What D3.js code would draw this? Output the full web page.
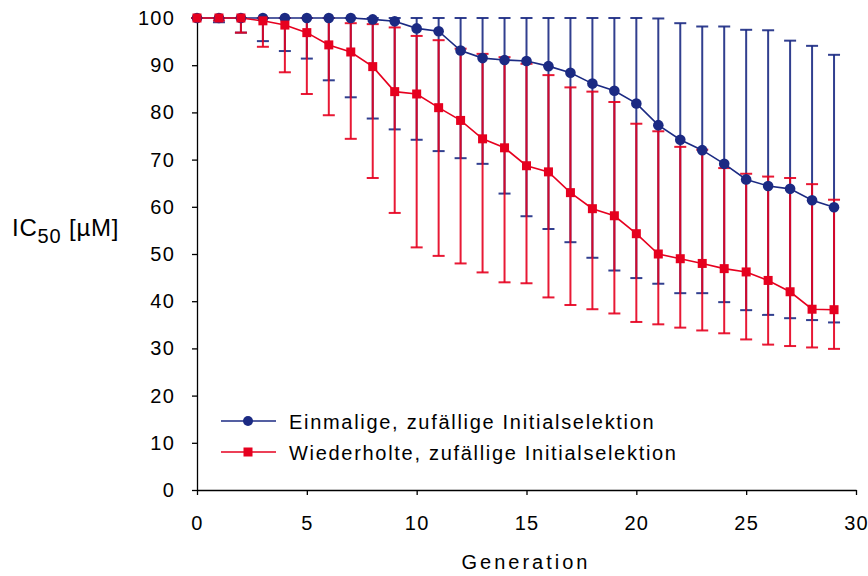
<!DOCTYPE html>
<html>
<head>
<meta charset="utf-8">
<script src="https://cdn.jsdelivr.net/npm/d3@7"></script>
<style>
  html, body { margin: 0; padding: 0; background: #fff; }
  svg { display: block; font-family: Arial, "Liberation Sans", sans-serif; }
</style>
</head>
<body>
<svg id="chart" width="868" height="576"></svg>
<script>
// Generation numbers
const generations = d3.range(0, 30);

// Series 1: single random initial selection (mean, upper and lower error limits)
const einmaligMean = [100, 100, 100, 100, 100, 100, 100, 100, 99.7, 99.3,
  97.8, 97.2, 93.1, 91.5, 91.1, 90.9, 89.8, 88.4, 86.1, 84.6,
  81.9, 77.3, 74.2, 72.0, 69.1, 65.8, 64.4, 63.8, 61.4, 59.9];
const einmaligUpper = [100, 100, 100, 100, 100, 100, 100, 100, 100, 100,
  100, 100, 100, 100, 100, 100, 100, 100, 100, 100,
  100, 99.9, 98.9, 98.2, 98.2, 97.5, 97.4, 95.2, 94.1, 92.2];
const einmaligLower = [100, 99.1, 96.9, 95.1, 93.0, 91.4, 86.8, 83.2, 78.7, 76.4,
  74.2, 71.8, 70.3, 69.1, 62.8, 58.0, 55.3, 52.5, 49.2, 46.5,
  44.9, 43.7, 41.7, 41.7, 39.8, 38.1, 37.1, 36.4, 36.0, 35.5];

// Series 2: repeated random initial selection
const wiederholtMean = [100, 100, 100, 99.4, 98.5, 96.9, 94.3, 92.8, 89.7, 84.4,
  83.9, 81.0, 78.3, 74.4, 72.5, 68.7, 67.4, 63.0, 59.6, 58.1,
  54.3, 50.0, 49.0, 48.0, 46.9, 46.2, 44.4, 42.0, 38.3, 38.2];
const wiederholtUpper = [100, 100, 100, 100, 100, 100, 100, 98.9, 98.7, 98.0,
  96.2, 95.3, 93.5, 92.4, 91.7, 90.3, 87.9, 85.3, 84.4, 82.2,
  77.6, 76.0, 72.7, 72.1, 68.2, 67.0, 66.4, 66.1, 64.8, 61.5];
const wiederholtLower = [100, 99.5, 96.9, 93.9, 88.5, 83.9, 79.4, 74.4, 66.1, 58.7,
  51.4, 49.6, 48.0, 46.1, 44.0, 43.8, 40.8, 39.2, 38.3, 37.4,
  35.6, 35.1, 34.4, 33.8, 33.2, 31.9, 30.8, 30.5, 30.2, 29.9];

// Axis ticks and labels
const xTicks = [0, 5, 10, 15, 20, 25, 30];
const yTicks = [0, 10, 20, 30, 40, 50, 60, 70, 80, 90, 100];
const xTitle = "Generation";
const legendLabels = ["Einmalige, zufällige Initialselektion", "Wiederholte, zufällige Initialselektion"];

const BLUE = "#1b2a83";
const RED = "#e6001f";

const svg = d3.select("#chart");
const x = d3.scaleLinear().domain([0, 30]).range([197, 856]);
const y = d3.scaleLinear().domain([0, 100]).range([490, 18]);

// Axes
const xAxis = svg.append("g")
  .attr("transform", `translate(0,${y(0)})`)
  .call(d3.axisBottom(x).tickValues(xTicks).tickSize(5).tickSizeOuter(0).tickPadding(21));
const yAxis = svg.append("g")
  .attr("transform", `translate(${x(0)},0)`)
  .call(d3.axisLeft(y).tickValues(yTicks).tickSize(5).tickSizeOuter(0).tickPadding(17));

[xAxis, yAxis].forEach(g => {
  g.select(".domain").attr("stroke", "#000").attr("stroke-width", 1.3);
  g.selectAll(".tick line").attr("stroke", "#000").attr("stroke-width", 1.3);
  g.selectAll(".tick text")
    .attr("fill", "#000")
    .style("font-size", "20px")
    .style("font-family", "Arial, 'Liberation Sans', sans-serif")
    .style("letter-spacing", "1.2px");
});

// Axis titles
svg.append("text")
  .attr("x", 526).attr("y", 569)
  .attr("text-anchor", "middle")
  .style("font-size", "20px")
  .style("letter-spacing", "3px")
  .text(xTitle);

const yTitle = svg.append("text")
  .attr("x", 12).attr("y", 236)
  .style("font-size", "24px")
  .style("letter-spacing", "0.8px");
yTitle.append("tspan").text("IC");
yTitle.append("tspan").attr("dy", 7).style("font-size", "20px").text("50");
yTitle.append("tspan").attr("dy", -7).text(" [µM]");

// Error bars
function errorBars(upper, lower, color) {
  const g = svg.append("g").attr("stroke", color).attr("stroke-width", 2).attr("stroke-opacity", 0.9);
  generations.forEach((gen, i) => {
    const cx = x(gen);
    g.append("line").attr("x1", cx).attr("x2", cx).attr("y1", y(upper[i])).attr("y2", y(lower[i]));
    g.append("line").attr("x1", cx - 6).attr("x2", cx + 6).attr("y1", y(upper[i])).attr("y2", y(upper[i]));
    g.append("line").attr("x1", cx - 6).attr("x2", cx + 6).attr("y1", y(lower[i])).attr("y2", y(lower[i]));
  });
}
errorBars(einmaligUpper, einmaligLower, BLUE);
errorBars(wiederholtUpper, wiederholtLower, RED);

// Lines
const line = d3.line().x((d, i) => x(generations[i])).y(d => y(d));
svg.append("path").datum(einmaligMean)
  .attr("fill", "none").attr("stroke", BLUE).attr("stroke-width", 1.6).attr("d", line);
svg.append("path").datum(wiederholtMean)
  .attr("fill", "none").attr("stroke", RED).attr("stroke-width", 1.6).attr("d", line);

// Markers
svg.append("g").selectAll("circle").data(einmaligMean).join("circle")
  .attr("cx", (d, i) => x(generations[i])).attr("cy", d => y(d))
  .attr("r", 5.3).attr("fill", BLUE);
const sq = 9;
svg.append("g").selectAll("rect").data(wiederholtMean).join("rect")
  .attr("x", (d, i) => x(generations[i]) - sq / 2).attr("y", d => y(d) - sq / 2)
  .attr("width", sq).attr("height", sq).attr("fill", RED);

// Legend
const legend = svg.append("g");
const legendRows = [
  { label: legendLabels[0], color: BLUE, shape: "circle", y: 421 },
  { label: legendLabels[1], color: RED, shape: "square", y: 452 }
];
legendRows.forEach(r => {
  legend.append("line").attr("x1", 221).attr("x2", 276).attr("y1", r.y).attr("y2", r.y)
    .attr("stroke", r.color).attr("stroke-width", 1.6);
  if (r.shape === "circle") {
    legend.append("circle").attr("cx", 248).attr("cy", r.y).attr("r", 5).attr("fill", r.color);
  } else {
    legend.append("rect").attr("x", 248 - 4.5).attr("y", r.y - 4.5).attr("width", 9).attr("height", 9).attr("fill", r.color);
  }
  legend.append("text").attr("x", 289).attr("y", r.y + 8)
    .style("font-size", "20px").style("letter-spacing", "1.7px")
    .text(r.label);
});
</script>
</body>
</html>
